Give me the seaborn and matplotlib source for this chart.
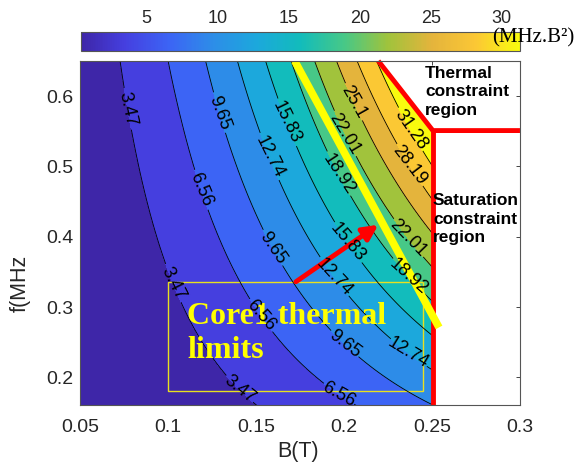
import numpy as np
import seaborn as sns
import matplotlib.pyplot as plt
from matplotlib.cm import ScalarMappable
from matplotlib.colors import Normalize
from matplotlib.patches import Rectangle

# range of the map (B in T, f in MHz)
B_range = [0.05, 0.25]
f_range = [0.16, 0.65]
k_map = 1024.0
f_exp = 1.037

levels = [0.38, 3.47, 6.56, 9.65, 12.74, 15.83, 18.92, 22.01, 25.1, 28.19, 31.28]
cbar_ticks = [5, 10, 15, 20, 25, 30]

# constraint edges
thermal_B = [0.2195, 0.2505, 0.30]
thermal_f = [0.65, 0.551, 0.551]
sat_B = [0.2505, 0.2505]
sat_f = [0.551, 0.16]

core_line_B = [0.172, 0.254]
core_line_f = [0.65, 0.271]
arrow_B = [0.1727, 0.2195]
arrow_f = [0.336, 0.417]
box_B = [0.10, 0.245]
box_f = [0.18, 0.336]

# where the contour labels sit
label_pos = [
    (0.0757, 0.581), (0.103, 0.334), (0.1413, 0.186),
    (0.1168, 0.464), (0.154, 0.291), (0.1967, 0.174),
    (0.127, 0.574), (0.158, 0.381), (0.200, 0.246),
    (0.157, 0.513), (0.193, 0.339), (0.2366, 0.234),
    (0.1659, 0.56), (0.2013, 0.389),
    (0.1967, 0.489), (0.2366, 0.343),
    (0.2024, 0.55), (0.2372, 0.40),
    (0.204, 0.589), (0.2366, 0.50), (0.2366, 0.55),
]

# parula-like colours, one per level step
parula = ['#3e26a8', '#4540e0', '#3c64f5', '#2d8de8', '#1ca8dc', '#12bcbb',
          '#47c887', '#a0c33c', '#e4b43c', '#fbc735', '#f9fb0e']

sns.set_style("ticks")
plt.rcParams['font.family'] = ['Liberation Sans', 'DejaVu Sans']
cmap = sns.blend_palette(parula, n_colors=256, as_cmap=True)

B = np.linspace(B_range[0], B_range[1], 401)
f = np.linspace(f_range[0], f_range[1], 491)
Bg, Fg = np.meshgrid(B, f)
Z = k_map * Fg ** f_exp * Bg ** 2
B_lim = np.interp(Fg, [thermal_f[1], thermal_f[0]], [thermal_B[1], thermal_B[0]])
Z = np.ma.masked_where(Bg > B_lim + 1e-9, Z)

fig = plt.figure(figsize=(5.75, 4.65), dpi=100)
ax = fig.add_axes([0.1391, 0.128, 0.7652, 0.7409])
cax = fig.add_axes([0.1409, 0.8903, 0.7635, 0.0409])

norm = Normalize(levels[0], levels[-1])
fill_levels = [0] + levels[1:] + [100]
fill_colors = [cmap(norm(v)) for v in levels]
ax.contourf(Bg, Fg, Z, levels=fill_levels, colors=fill_colors)
cs = ax.contour(Bg, Fg, Z, levels=levels[1:], colors='k', linewidths=0.6)
ax.clabel(cs, manual=label_pos, fontsize=13, inline=True, inline_spacing=4,
          fmt=lambda v: f"{v:.2f}".rstrip('0').rstrip('.'))

ax.plot(thermal_B, thermal_f, color='red', lw=3.5, clip_on=False, solid_capstyle='butt')
ax.plot(sat_B, sat_f, color='red', lw=3.5, clip_on=False, solid_capstyle='butt')
ax.plot(core_line_B, core_line_f, color='#ffff00', lw=5.5, solid_capstyle='butt')
ax.annotate('', xy=(arrow_B[1], arrow_f[1]), xytext=(arrow_B[0], arrow_f[0]),
            arrowprops=dict(arrowstyle='-|>,head_length=0.9,head_width=0.45',
                            color='red', lw=3.5, shrinkA=0, shrinkB=0))
ax.add_patch(Rectangle((box_B[0], box_f[0]), box_B[1] - box_B[0], box_f[1] - box_f[0],
                       fill=False, edgecolor='#e8e020', lw=1.0))
ax.text(0.1108, 0.307, "Core1 thermal\nlimits", family=['Liberation Serif'],
        fontweight='bold', fontsize=23, color='#ffff00', va='top', ha='left',
        linespacing=1.2)
ax.text(0.246, 0.643, "Thermal\nconstraint\nregion", fontweight='bold', fontsize=12.5,
        color='black', va='top', ha='left', linespacing=1.3, clip_on=False)
ax.text(0.2506, 0.462, "Saturation\nconstraint\nregion", fontweight='bold', fontsize=12.5,
        color='black', va='top', ha='left', linespacing=1.3, clip_on=False)

ax.set_xlim(0.05, 0.3)
ax.set_ylim(f_range)
ax.set_xticks([0.05, 0.1, 0.15, 0.2, 0.25, 0.3])
ax.set_xticklabels(['0.05', '0.1', '0.15', '0.2', '0.25', '0.3'])
ax.set_yticks([0.2, 0.3, 0.4, 0.5, 0.6])
ax.tick_params(direction='in', length=3, width=0.6, top=True, right=True,
               labelsize=14, colors='#262626')
ax.tick_params(axis='x', pad=10)
ax.tick_params(axis='y', pad=5)
for s in ax.spines.values():
    s.set_color('#555555')
    s.set_linewidth(0.8)
ax.set_xlabel('B(T)', fontsize=15.5, color='#262626')
ax.set_ylabel('f(MHz', fontsize=15.5, color='#262626')
ax.xaxis.set_label_coords(0.495, -0.103)
ax.yaxis.set_label_coords(-0.112, 0.355)

cb = fig.colorbar(ScalarMappable(norm=norm, cmap=cmap), cax=cax, orientation='horizontal')
cb.set_ticks(cbar_ticks)
cax.xaxis.set_ticks_position('top')
cax.tick_params(direction='in', length=3, width=0.6, labelsize=13, colors='#262626')
cb.outline.set_edgecolor('#555555')
cb.outline.set_linewidth(0.8)
fig.text(492 / 575, 1 - 38 / 465, '(MHz.B²)', family=['Liberation Serif'], fontsize=15,
         color='black', va='center', ha='left')

plt.savefig('out.png', dpi=100)
